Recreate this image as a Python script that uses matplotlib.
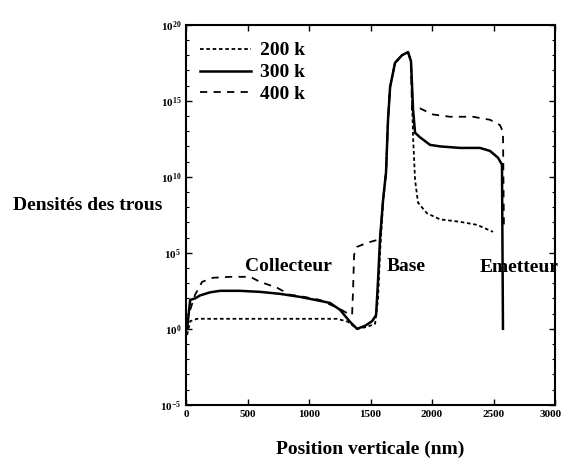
import numpy as np
import matplotlib
matplotlib.use("Agg")
import matplotlib.pyplot as plt
from matplotlib.ticker import FixedLocator, LogFormatterSciNotation, NullFormatter
import matplotlib.transforms as mtransforms

plt.rcParams['font.family'] = ['Liberation Serif', 'DejaVu Serif']
plt.rcParams['mathtext.fontset'] = 'custom'
plt.rcParams['mathtext.rm'] = 'Liberation Serif:bold'
plt.rcParams['mathtext.default'] = 'rm'

# hole density profiles along the vertical cut (x in nm, log10 of density)
x_200k = [8, 33, 89, 300, 602, 900, 1228, 1317, 1390, 1472, 1537, 1561, 1577, 1602,
          1626, 1642, 1659, 1699, 1756, 1805, 1829, 1846, 1862, 1886, 1959, 2065,
          2228, 2366, 2496]
log_200k = [-0.4, 0.5, 0.66, 0.66, 0.66, 0.66, 0.66, 0.46, 0.0, 0.13, 0.33, 2.0, 5.0, 8.3,
            10.3, 13.75, 15.9, 17.5, 18.0, 18.2, 17.6, 12.6, 9.8, 8.3, 7.6, 7.2,
            7.04, 6.84, 6.38]

x_300k = [8, 33, 73, 114, 195, 276, 439, 602, 764, 927, 1089, 1171, 1252, 1333, 1390,
          1455, 1512, 1545, 1561, 1577, 1602, 1626, 1642, 1659, 1699, 1756, 1805,
          1829, 1846, 1862, 1902, 1984, 2065, 2228, 2390, 2472, 2537, 2569, 2577]
log_300k = [0.0, 1.9, 2.0, 2.2, 2.4, 2.5, 2.5, 2.43, 2.3, 2.1, 1.84, 1.7, 1.25, 0.46, 0.0,
            0.2, 0.5, 0.9, 3.2, 5.9, 8.5, 10.3, 13.75, 15.9, 17.5, 18.0, 18.2,
            17.6, 14.4, 12.9, 12.6, 12.1, 12.0, 11.9, 11.9, 11.7, 11.25, 10.8, 0.0]

x_400k = [33, 73, 130, 220, 358, 520, 602, 740, 846, 927, 1089, 1252, 1317, 1350, 1358,
          1366, 1390, 1472, 1561, 1577, 1602, 1626, 1642, 1659, 1699, 1756, 1805,
          1829, 1837, 1902, 2008, 2146, 2333, 2472, 2553, 2577, 2585]
log_400k = [1.25, 2.24, 3.09, 3.36, 3.42, 3.42, 3.09, 2.7, 2.24, 2.15, 1.9, 1.3, 1.0, 0.92, 2.6,
            4.87, 5.39, 5.66, 5.86, 6.0, 8.5, 10.3, 13.75, 15.9, 17.5, 18.0, 18.2,
            17.6, 14.4, 14.5, 14.1, 13.95, 13.95, 13.75, 13.4, 12.96, 6.5]

labels = ["200 k", "300 k", "400 k"]

fig = plt.figure(figsize=(5.64, 4.59), dpi=100)
ax = fig.add_axes([0.330, 0.118, 0.654, 0.828])

ax.plot(x_200k, 10.0 ** np.array(log_200k), color='black', lw=1.3,
        linestyle=(0, (2, 1.5)), label=labels[0])
ax.plot(x_300k, 10.0 ** np.array(log_300k), color='black', lw=1.8,
        linestyle='-', label=labels[1])
ax.plot(x_400k, 10.0 ** np.array(log_400k), color='black', lw=1.3,
        linestyle=(0, (4, 3.5)), label=labels[2])

ax.set_yscale('log')
ax.set_xlim(0, 3000)
ax.set_ylim(1e-5, 1e20)
ax.set_xticks([0, 500, 1000, 1500, 2000, 2500, 3000])
ax.yaxis.set_major_locator(FixedLocator([10.0 ** k for k in range(-5, 21, 5)]))
ax.yaxis.set_minor_locator(FixedLocator([10.0 ** k for k in range(-5, 21) if k % 5]))
ax.yaxis.set_major_formatter(LogFormatterSciNotation())
ax.yaxis.set_minor_formatter(NullFormatter())
ax.tick_params(which='both', direction='in', top=True, right=True, labelsize=8)
ax.tick_params(which='major', length=4, width=1)
ax.tick_params(which='minor', length=2.5, width=0.8)
for lab in ax.get_xticklabels() + ax.get_yticklabels():
    lab.set_fontweight('bold')
for s in ax.spines.values():
    s.set_linewidth(1.5)

# keep the last x label inside the figure
last = ax.get_xticklabels()[-1]
last.set_transform(last.get_transform() +
                   mtransforms.ScaledTranslation(-4 / 100, 0, fig.dpi_scale_trans))

ax.set_xlabel("Position verticale (nm)", fontsize=14, fontweight='bold', labelpad=16)
fig.text(0.023, 0.553, "Densités des trous", fontsize=14, fontweight='bold',
         ha='left', va='center')

ax.text(475, 10 ** 4.1, "Collecteur", fontsize=14, fontweight='bold', va='center')
ax.text(1634, 10 ** 4.1, "Base", fontsize=14, fontweight='bold', va='center')
ax.text(2390, 10 ** 4.05, "Emetteur", fontsize=14, fontweight='bold', va='center')

leg = ax.legend(loc='upper left', bbox_to_anchor=(0.038, 0.955), frameon=False,
                prop={'size': 14, 'weight': 'bold'}, handlelength=2.6,
                handletextpad=0.5, labelspacing=0.22, borderpad=0, borderaxespad=0)

fig.savefig("out.png", dpi=100)
